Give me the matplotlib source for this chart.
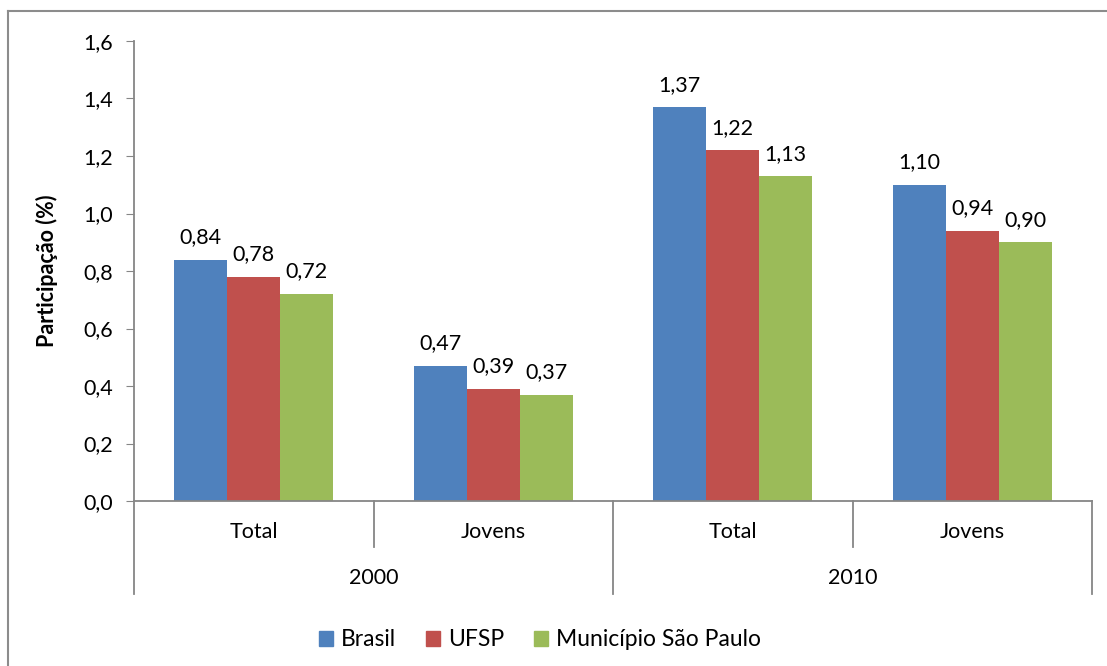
import matplotlib.pyplot as plt
import matplotlib.transforms as mtransforms
from matplotlib.patches import Rectangle
from matplotlib.lines import Line2D
import numpy as np

plt.rcParams['font.family'] = ['Lato', 'DejaVu Sans']

# data
categorias = ['Total', 'Jovens', 'Total', 'Jovens']
anos = ['2000', '2010']
series = ['Brasil', 'UFSP', 'Município São Paulo']
brasil = [0.84, 0.47, 1.37, 1.10]
ufsp = [0.78, 0.39, 1.22, 0.94]
municipio = [0.72, 0.37, 1.13, 0.90]
cores = ['#4F81BD', '#C0504D', '#9BBB59']

W, H = 1107, 666
fs = 15.5
fig = plt.figure(figsize=(W / 100, H / 100), dpi=100)

# frame of the chart area (only left/top visible)
fig.add_artist(Line2D([8 / W, 8 / W], [0, 1 - 11 / H], color='#8c8c8c', lw=1.5))
fig.add_artist(Line2D([8 / W, 1], [1 - 11 / H, 1 - 11 / H], color='#8c8c8c', lw=1.5))

ax = fig.add_axes([134 / W, (H - 501) / H, (1092 - 134) / W, (501 - 41) / H])

x = np.arange(len(categorias))
bw = 0.221
valores = [brasil, ufsp, municipio]
for i, (nome, vals, cor) in enumerate(zip(series, valores, cores)):
    pos = x + (i - 1) * bw
    ax.bar(pos, vals, width=bw, color=cor, label=nome)
    for px, v in zip(pos, vals):
        ax.annotate(f'{v:.2f}'.replace('.', ','), (px, v), xytext=(0, 9),
                    textcoords='offset points', ha='center', va='bottom', fontsize=fs)

ax.set_xlim(-0.5, 3.5)
ax.set_ylim(0, 1.6)
yt = np.arange(0, 1.61, 0.2)
ax.set_yticks(yt)
ax.set_yticklabels([f'{v:.1f}'.replace('.', ',') for v in yt], fontsize=fs)
ax.tick_params(axis='y', length=6, color='#868686', pad=9)
ax.set_xticks([])
for s in ['top', 'right']:
    ax.spines[s].set_visible(False)
for s in ['left', 'bottom']:
    ax.spines[s].set_color('#868686')
    ax.spines[s].set_linewidth(1.3)

ax.set_ylabel('Participação (%)', fontsize=fs, fontweight='bold', labelpad=18)

# multi-level category axis
tr = mtransforms.blended_transform_factory(ax.transData, ax.transAxes)
for xs in [0.5, 2.5]:
    ax.plot([xs, xs], [0, -0.1], transform=tr, color='#868686', lw=1.3, clip_on=False)
for xs in [-0.5, 1.5, 3.5]:
    ax.plot([xs, xs], [0, -0.202], transform=tr, color='#868686', lw=1.3, clip_on=False)
for xi, c in zip(x, categorias):
    ax.text(xi, -0.067, c, transform=tr, ha='center', va='center', fontsize=fs)
for k, a in enumerate(anos):
    ax.text(2 * k + 0.5, -0.167, a, transform=tr, ha='center', va='center', fontsize=fs)

handles = [Rectangle((0, 0), 1, 1, color=c) for c in cores]
fig.legend(handles, series, loc='center', bbox_to_anchor=(540 / W, 1 - 640 / H),
           ncol=3, frameon=False, fontsize=16.5, handlelength=0.6, handleheight=0.6,
           handletextpad=0.35, columnspacing=1.3)

fig.savefig('out.png', dpi=100)
